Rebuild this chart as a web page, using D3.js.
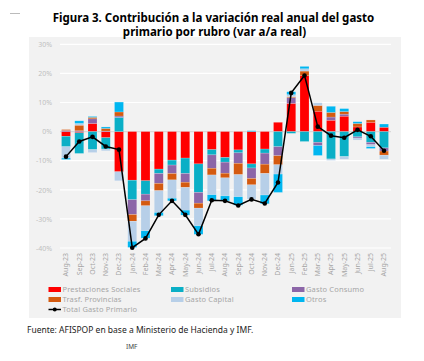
<!DOCTYPE html>
<html>
<head>
<meta charset="utf-8">
<script src="https://cdn.jsdelivr.net/npm/d3@7"></script>
<style>
  body { margin: 0; background: #fff; }
  svg { display: block; font-family: "Noto Sans", sans-serif; }
</style>
</head>
<body>
<div id="chart"></div>
<script>
// months on the x axis
var months = ['Aug-23','Sep-23','Oct-23','Nov-23','Dec-23','Jan-24','Feb-24','Mar-24','Apr-24','May-24',
  'Jun-24','Jul-24','Aug-24','Sep-24','Oct-24','Nov-24','Dec-24','Jan-25','Feb-25','Mar-25',
  'Apr-25','May-25','Jun-25','Jul-25','Aug-25'];

// contributions (p.p.)
var prestaciones = [-1.6,-0.4,2.8,-2.1,-13.8,-16.7,-16.9,-12.9,-9.8,-9.1,-11.1,-6.2,-8.9,-6.3,-11.1,-6.0,3.2,9.7,19.2,7.0,3.9,5.3,1.6,3.2,1.5];
var subsidios    = [-3.6,-7.1,-6.2,-3.9,4.9,-6.7,-4.6,-1.5,-1.7,-5.3,-9.8,-1.8,-1.6,-1.0,-1.4,-1.4,-5.2,-0.6,-3.4,-3.7,-9.4,-8.6,-1.8,-3.7,-5.6];
var consumo      = [0.4,0.3,1.6,0.2,0.45,-5.1,-2.3,-3.4,-2.9,-3.0,-3.7,-4.6,-3.8,-3.6,-3.6,-3.8,-3.1,2.0,0,-1.1,1.1,0.7,-0.4,-0.8,-1.1];
var provincias   = [0.3,1.9,0.5,0.9,1.4,-2.3,-1.7,-2.5,-2.2,-1.8,-1.7,-2.3,-1.6,-3.9,-2.2,-3.2,-3.1,0.3,1.6,2.0,1.6,0.9,1.2,0.8,-1.4];
var capital      = [-3.9,0.6,-1.0,-0.6,-3.1,-6.9,-8.6,-7.5,-6.3,-7.8,-6.1,-6.8,-6.2,-7.6,-4.9,-7.4,-3.2,0.7,0.8,0.9,-0.5,-0.9,-0.7,-0.7,-1.4];
var otros        = [-0.5,0.9,0.3,0.5,3.4,-2.1,-2.5,-1.1,-0.9,-1.7,-2.9,-2.1,-1.7,-2.9,0.3,-3.0,-6.3,1.0,0.8,-3.4,2.1,1.0,0.6,-0.6,1.1];
var total        = [-8.6,-3.4,-1.8,-5.1,-6.2,-39.9,-36.7,-28.6,-23.8,-28.6,-35.3,-23.6,-23.8,-25.4,-23.3,-24.7,-17.5,13.3,19.3,1.7,-1.4,-2.1,0.6,-1.6,-6.6];

var seriesNames = ['Prestaciones Sociales','Subsidios','Gasto Consumo','Trasf. Provincias','Gasto Capital','Otros'];
var seriesValues = [prestaciones, subsidios, consumo, provincias, capital, otros];
var colors = ['#ff0000','#0aafc6','#8c66a8','#d45a10','#b7cfe8','#00b6f0'];
var yTicks = [30,20,10,0,-10,-20,-30,-40];

var width = 424, height = 361;
var svg = d3.select('#chart').append('svg').attr('width', width).attr('height', height);

// panel
svg.append('rect').attr('x', 29).attr('y', 37).attr('width', 372).attr('height', 281).attr('fill', '#f2f2f2');
svg.append('line').attr('x1', 10).attr('x2', 20).attr('y1', 13.5).attr('y2', 13.5).attr('stroke', '#bbb').attr('stroke-width', 1);

// title (two lines)
svg.append('text').attr('x', 213.5).attr('y', 22).attr('text-anchor', 'middle')
  .attr('font-weight', 'bold').attr('font-size', 11.5).attr('fill', '#000')
  .text('Figura 3. Contribución a la variación real anual del gasto');
svg.append('text').attr('x', 214.5).attr('y', 35.5).attr('text-anchor', 'middle')
  .attr('font-weight', 'bold').attr('font-size', 11.5).attr('fill', '#000')
  .text('primario por rubro (var a/a real)');

var x = d3.scaleBand().domain(months).range([59.375, 390.625]).paddingInner(0.32).paddingOuter(0.16);
var y = d3.scaleLinear().domain([-40, 30]).range([248, 44.3]);

// grid
svg.append('g').selectAll('line').data(yTicks).enter().append('line')
  .attr('x1', 60).attr('x2', 391)
  .attr('y1', function(d) { return y(d); }).attr('y2', function(d) { return y(d); })
  .attr('stroke', function(d) { return d === 0 ? '#d9d9d9' : '#ffffff'; })
  .attr('stroke-width', 1.2);

var yAxis = svg.append('g').attr('transform', 'translate(52,0)')
  .call(d3.axisLeft(y).tickValues(yTicks).tickSize(0).tickPadding(0).tickFormat(function(d) { return d + '%'; }));
yAxis.select('.domain').remove();
yAxis.selectAll('text').attr('fill', '#bfbfbf').attr('font-size', 7).attr('font-family', '"Noto Sans", sans-serif');

// stacked bars
var rows = months.map(function(m, i) {
  var r = { month: m };
  seriesNames.forEach(function(s, k) { r[s] = seriesValues[k][i]; });
  return r;
});
var stacked = d3.stack().keys(seriesNames).offset(d3.stackOffsetDiverging)(rows);

svg.append('g').selectAll('g').data(stacked).enter().append('g')
  .attr('fill', function(d, i) { return colors[i]; })
  .selectAll('rect').data(function(d) { return d; }).enter().append('rect')
  .attr('x', function(d) { return x(d.data.month); })
  .attr('width', x.bandwidth())
  .attr('y', function(d) { return y(Math.max(d[0], d[1])); })
  .attr('height', function(d) { return Math.abs(y(d[0]) - y(d[1])); })
  .attr('stroke', '#ffffff').attr('stroke-opacity', 0.35).attr('stroke-width', 0.5);

// total line
var line = d3.line()
  .x(function(d, i) { return x(months[i]) + x.bandwidth() / 2; })
  .y(function(d) { return y(d); });
svg.append('path').datum(total).attr('d', line).attr('fill', 'none').attr('stroke', '#000').attr('stroke-width', 1.5);
svg.append('g').selectAll('circle').data(total).enter().append('circle')
  .attr('cx', function(d, i) { return x(months[i]) + x.bandwidth() / 2; })
  .attr('cy', function(d) { return y(d); })
  .attr('r', 2.3).attr('fill', '#000');

// x labels
var xAxis = svg.append('g').attr('transform', 'translate(0,252)')
  .call(d3.axisBottom(x).tickSize(0).tickPadding(0));
xAxis.select('.domain').remove();
xAxis.selectAll('text')
  .attr('transform', 'rotate(-90)')
  .attr('text-anchor', 'end').attr('dy', '0.32em').attr('dx', '-1').attr('y', 0).attr('x', 0)
  .attr('fill', '#a6a6a6').attr('font-size', 7).attr('font-family', '"Noto Sans", sans-serif');

// legend
var legendItems = seriesNames.concat(['Total Gasto Primario']);
var legend = svg.append('g').selectAll('g').data(legendItems).enter().append('g')
  .attr('transform', function(d, i) {
    var col = i % 3, row = Math.floor(i / 3);
    return 'translate(' + [48.5, 171, 292][col] + ',' + (289.5 + row * 10) + ')';
  });
legend.each(function(d, i) {
  var g = d3.select(this);
  if (i < 6) {
    g.append('rect').attr('x', 0).attr('y', -2.5).attr('width', 12.5).attr('height', 5).attr('fill', colors[i]);
  } else {
    g.append('line').attr('x1', 0).attr('x2', 12.5).attr('stroke', '#000').attr('stroke-width', 1.5);
    g.append('circle').attr('cx', 6.25).attr('r', 2).attr('fill', '#000');
  }
  g.append('text').attr('x', 14).attr('dy', '0.35em').attr('font-size', 7.5).attr('letter-spacing', 0.15)
    .attr('fill', '#a6a6a6').text(d);
});

// source
svg.append('text').attr('x', 27).attr('y', 333).attr('font-size', 8.5).attr('fill', '#222')
  .text('Fuente: AFISPOP en base a Ministerio de Hacienda y IMF.');
svg.append('text').attr('x', 126).attr('y', 349).attr('font-size', 6.5).attr('fill', '#444').text('IMF');
</script>
</body>
</html>
